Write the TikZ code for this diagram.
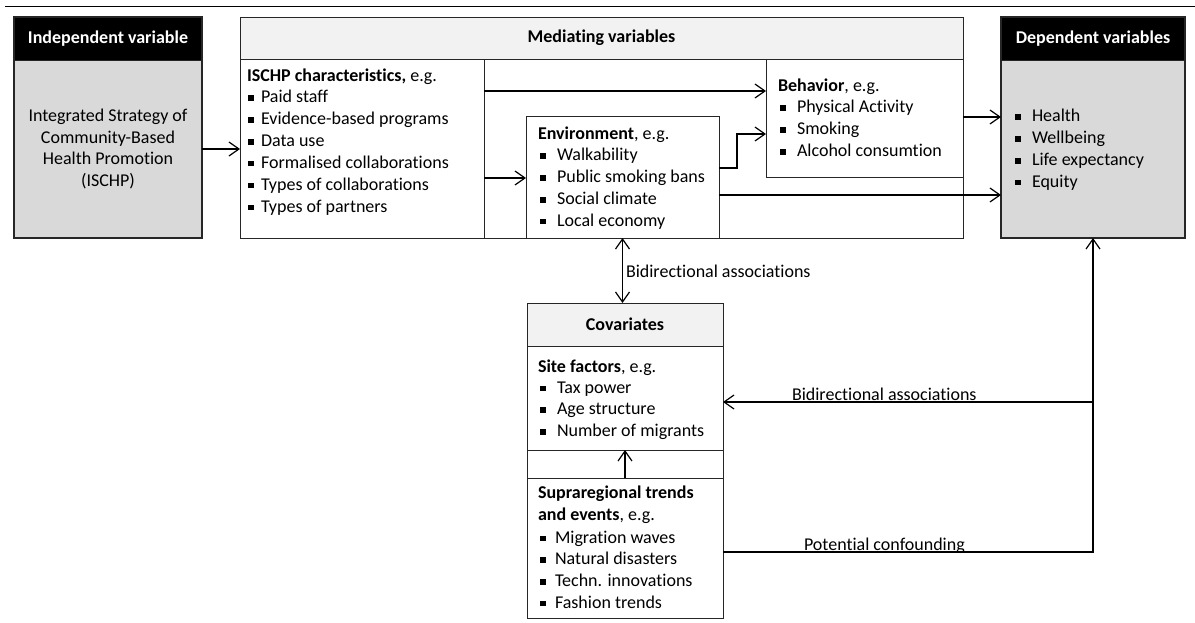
\documentclass[tikz,border=0pt]{standalone}
\usepackage{fontspec}
\setmainfont{Carlito}[Ligatures=NoCommon]
\usetikzlibrary{arrows.meta}
\definecolor{bodygray}{HTML}{D9D9D9}
\definecolor{headgray}{HTML}{F2F2F2}
\newcommand\sqb{\raisebox{2pt}{\rule{5.5pt}{5.5pt}}}
\newcommand\bitem[2]{\makebox[#1][l]{\sqb}#2}
\tikzset{
  box/.style={draw=black!85, line width=0.9pt, rectangle, anchor=north west, inner sep=0pt, outer sep=0pt},
  txt/.style={anchor=base west, inner sep=0pt, outer sep=0pt},
  arr/.style={line width=1.2pt, -{Straight Barb[length=10pt,width=14pt,line width=1.2pt]}},
  arrb/.style={line width=1.2pt, {Straight Barb[length=10pt,width=14pt,line width=1.2pt]}-{Straight Barb[length=10pt,width=14pt,line width=1.2pt]}},
}
\begin{document}
\begin{tikzpicture}[x=1pt,y=-1pt,font=\fontsize{18}{21.7}\selectfont]
\useasboundingbox (0,0) rectangle (1195,623);
\coordinate (tl) at (5,7);
\coordinate (tr) at (1195,7);
\draw[line width=1pt] (tl) -- (tr);

% Independent variable
\node[box, fill=bodygray, minimum width=188pt, minimum height=178pt, align=center] (indepbody) at (14,60)
  {Integrated Strategy of\\Community-Based\\Health Promotion\\(ISCHP)};
\node[box, fill=black, text=white, font=\fontsize{18}{21.7}\selectfont\bfseries, minimum width=188pt, minimum height=43pt] (indephead) at (14,17) {Independent variable};
\node[box, line width=1.3pt, minimum width=188pt, minimum height=221pt] (indep) at (14,17) {};

% Mediating variables
\node[box, minimum width=723pt, minimum height=221pt] (med) at (240,17) {};
\node[box, fill=headgray, font=\fontsize{18}{21.7}\selectfont\bfseries, minimum width=723pt, minimum height=42pt] (medhead) at (240,17) {Mediating variables};
\node[box, minimum width=244pt, minimum height=179pt] (ischp) at (240,59) {};
\node[box, minimum width=197pt, minimum height=118pt] (beh) at (766,59) {};
\node[box, minimum width=193pt, minimum height=122pt] (env) at (526,116) {};

\node[txt] (ischp-t) at (247,82) {\textbf{ISCHP characteristics,} e.g.};
\foreach \t [count=\i] in {Paid staff, Evidence-based programs, Data use, Formalised collaborations, Types of collaborations, Types of partners}
  \node[txt] (ischp-\i) at (248,{103+(\i-1)*21.8}) {\bitem{13pt}{\t}};

\node[txt] (beh-t) at (778,92) {\textbf{Behavior}, e.g.};
\foreach \t [count=\i] in {Physical Activity, Smoking, Alcohol consumtion}
  \node[txt] (beh-\i) at (780,{113+(\i-1)*21.8}) {\bitem{17pt}{\t}};

\node[txt] (env-t) at (538,140) {\textbf{Environment}, e.g.};
\foreach \t [count=\i] in {Walkability, Public smoking bans, Social climate, Local economy}
  \node[txt] (env-\i) at (540,{161+(\i-1)*21.8}) {\bitem{17pt}{\t}};

% Dependent variables
\node[box, fill=bodygray, minimum width=184pt, minimum height=178pt] (depbody) at (1001,60) {};
\node[box, fill=black, text=white, font=\fontsize{18}{21.7}\selectfont\bfseries, minimum width=184pt, minimum height=43pt] (dephead) at (1001,17) {Dependent variables};
\node[box, line width=1.3pt, minimum width=184pt, minimum height=221pt] (dep) at (1001,17) {};
\foreach \t [count=\i] in {Health, Wellbeing, Life expectancy, Equity}
  \node[txt] (dep-\i) at (1015,{122+(\i-1)*21.8}) {\bitem{17pt}{\t}};

% Covariates
\node[box, minimum width=196pt, minimum height=315pt] (cov) at (527,303) {};
\node[box, fill=headgray, font=\fontsize{18}{21.7}\selectfont\bfseries, minimum width=196pt, minimum height=43pt] (covhead) at (527,303) {Covariates};
\node[box, minimum width=196pt, minimum height=104pt] (site) at (527,346) {};
\node[box, minimum width=196pt, minimum height=140pt] (supra) at (527,478) {};

\node[txt] (site-t) at (538,372) {\textbf{Site factors}, e.g.};
\foreach \t [count=\i] in {Tax power, Age structure, Number of migrants}
  \node[txt] (site-\i) at (540,{393+(\i-1)*21.8}) {\bitem{17pt}{\t}};

\node[txt] (supra-t1) at (538,498) {\textbf{Supraregional trends}};
\node[txt] (supra-t2) at (538,520) {\textbf{and events}, e.g.};
\foreach \t [count=\i] in {Migration waves, Natural disasters, Techn. innovations, Fashion trends}
  \node[txt] (supra-\i) at (540,{543+(\i-1)*21.8}) {\bitem{15pt}{\t}};

% Connectors
\draw[arr] (indepbody.east) -- (indepbody.east -| ischp.west);
\draw[arr] (ischp.east |- 0,91) -- (beh.west |- 0,91);
\draw[arr] (ischp.east |- 0,178) -- (env.west |- 0,178);
\draw[arr] (env.east |- 0,168) -- ++(18,0) |- (beh.west |- 0,134);
\draw[arr] (env.east |- 0,195) -- (dep.west |- 0,195);
\draw[arr] (beh.east |- 0,117) -- (dep.west |- 0,117);
\draw[arrb] (env.south) -- (env.south |- cov.north);
\draw[arr] (supra.north) -- (site.south);

\coordinate (cj) at (1093,552);
\coordinate (bj) at (1093,402);
\draw[arr] (supra.east |- cj) -- (cj) -- (dep.south);
\draw[arr] (bj) -- (site.east |- bj);

\node[txt] (lab1) at (626,277) {Bidirectional associations};
\node[txt] (lab2) at (792,400) {Bidirectional associations};
\node[txt] (lab3) at (804,550) {Potential confounding};
\end{tikzpicture}
\end{document}
